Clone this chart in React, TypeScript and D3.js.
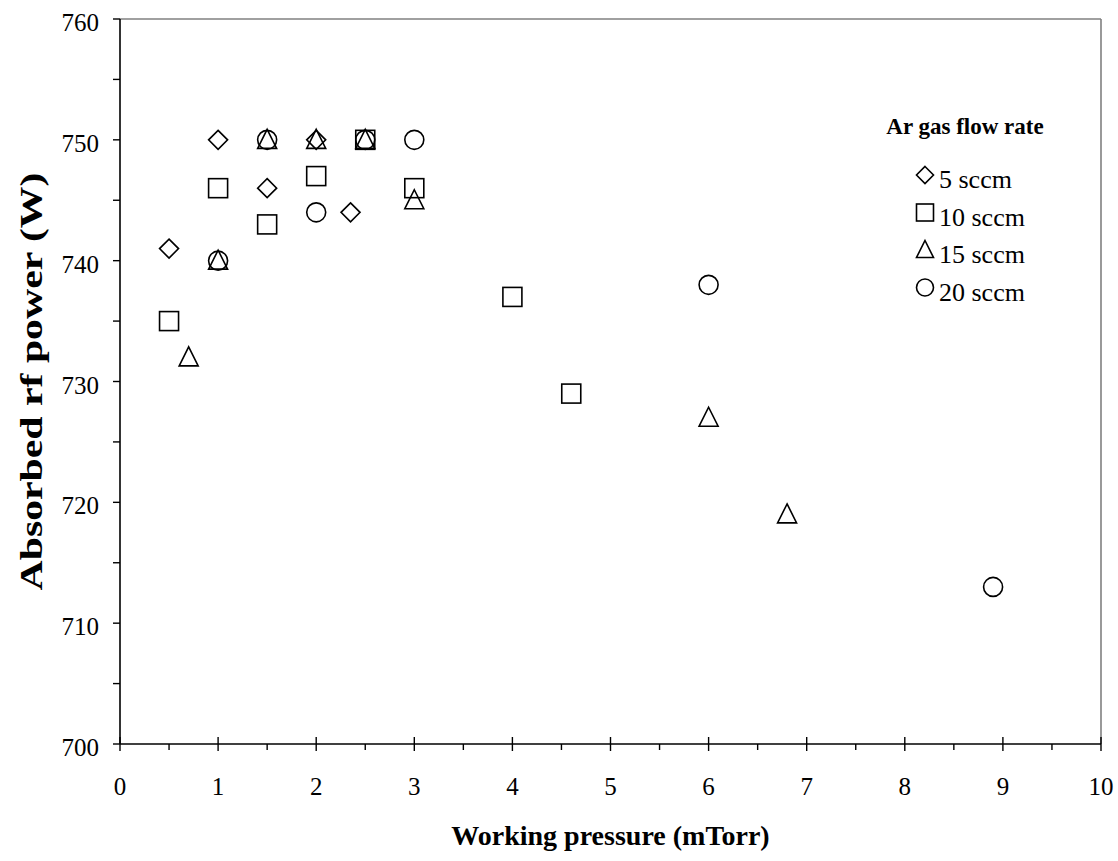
import React from 'react';
import * as d3 from 'd3';

const xTicks = [0, 1, 2, 3, 4, 5, 6, 7, 8, 9, 10];
const yTicks = [700, 710, 720, 730, 740, 750, 760];

const diamondPts = [
  [0.5, 741], [1, 750], [1.5, 746], [2, 750], [2.35, 744],
];
const squarePts = [
  [0.5, 735], [1, 746], [1.5, 743], [2, 747], [2.5, 750], [3, 746], [4, 737], [4.6, 729],
];
const trianglePts = [
  [0.7, 732], [1, 740], [1.5, 750], [2, 750], [2.5, 750], [3, 745], [6, 727], [6.8, 719],
];
const circlePts = [
  [1, 740], [1.5, 750], [2, 744], [2.5, 750], [3, 750], [6, 738], [8.9, 713],
];

const legendLabels = ['5 sccm', '10 sccm', '15 sccm', '20 sccm'];
const shapes = ['diamond', 'square', 'triangle', 'circle'];

const width = 1118;
const height = 861;
const margin = { top: 19, right: 17, bottom: 117, left: 120 };

const Marker = ({ kind, x, y, s }: { kind: string; x: number; y: number; s: number }) => {
  const h = s / 2;
  const common = { fill: 'none', stroke: '#000', strokeWidth: 1.6 };
  if (kind === 'diamond') {
    return <path d={`M${x},${y - h}L${x + h},${y}L${x},${y + h}L${x - h},${y}Z`} {...common} />;
  }
  if (kind === 'square') {
    return <rect x={x - h} y={y - h} width={s} height={s} {...common} />;
  }
  if (kind === 'triangle') {
    return <path d={`M${x},${y - h - 1}L${x + h},${y + h - 1}L${x - h},${y + h - 1}Z`} {...common} />;
  }
  return <circle cx={x} cy={y} r={h} {...common} />;
};

export default function App() {
  const innerW = width - margin.left - margin.right;
  const innerH = height - margin.top - margin.bottom;
  const x = d3.scaleLinear().domain([0, 10]).range([margin.left, margin.left + innerW]);
  const y = d3.scaleLinear().domain([700, 760]).range([margin.top + innerH, margin.top]);
  const x0 = x(0), x1 = x(10), y0 = y(700), y1 = y(760);

  const minorX = d3.range(0.5, 10, 1);
  const minorY = d3.range(705, 760, 10);
  const series = [diamondPts, squarePts, trianglePts, circlePts];
  const font = '"Liberation Serif", "Times New Roman", serif';

  return (
    <svg width={width} height={height} style={{ position: 'absolute', left: 0, top: 0 }} fontFamily={font}>
      <rect width={width} height={height} fill="#fff" />
      {/* box */}
      <line x1={x0} y1={y1} x2={x1} y2={y1} stroke="#808080" strokeWidth={1.6} />
      <line x1={x1} y1={y1} x2={x1} y2={y0} stroke="#808080" strokeWidth={1.6} />
      <line x1={x0} y1={y0} x2={x1} y2={y0} stroke="#000" strokeWidth={1.6} />
      <line x1={x0} y1={y0} x2={x0} y2={y1} stroke="#000" strokeWidth={1.6} />

      {xTicks.map(t => (
        <g key={'xt' + t}>
          <line x1={x(t)} x2={x(t)} y1={y0 - 7} y2={y0 + 7} stroke="#000" strokeWidth={1.4} />
          <text x={x(t)} y={y0 + 51} textAnchor="middle" fontSize={25}>{t}</text>
        </g>
      ))}
      {minorX.map(t => (
        <line key={'xm' + t} x1={x(t)} x2={x(t)} y1={y0} y2={y0 + 6} stroke="#000" strokeWidth={1.4} />
      ))}
      {yTicks.map(t => (
        <g key={'yt' + t}>
          <line x1={x0 - 7} x2={x0} y1={y(t)} y2={y(t)} stroke="#000" strokeWidth={1.4} />
          <text x={x0 - 21} y={y(t) + 12} textAnchor="end" fontSize={25}>{t}</text>
        </g>
      ))}
      {minorY.map(t => (
        <line key={'ym' + t} x1={x0 - 7} x2={x0} y1={y(t)} y2={y(t)} stroke="#000" strokeWidth={1.4} />
      ))}

      {series.map((pts, i) =>
        pts.map((p, j) => <Marker key={`${i}-${j}`} kind={shapes[i]} x={x(p[0])} y={y(p[1])} s={19} />)
      )}

      {/* legend */}
      <text x={965} y={134} textAnchor="middle" fontSize={23} fontWeight="bold">Ar gas flow rate</text>
      {legendLabels.map((l, i) => (
        <g key={l}>
          <Marker kind={shapes[i]} x={925} y={175 + i * 37.5} s={17} />
          <text x={939} y={188 + i * 37.5} fontSize={26}>{l}</text>
        </g>
      ))}

      <text x={(x0 + x1) / 2} y={845} textAnchor="middle" fontSize={28} fontWeight="bold">Working pressure (mTorr)</text>
      <text transform={`translate(42, ${(y0 + y1) / 2}) rotate(-90)`} textAnchor="middle" fontSize={31} fontWeight="bold"
        textLength={418} lengthAdjust="spacingAndGlyphs">
        Absorbed rf power (W)
      </text>
    </svg>
  );
}
